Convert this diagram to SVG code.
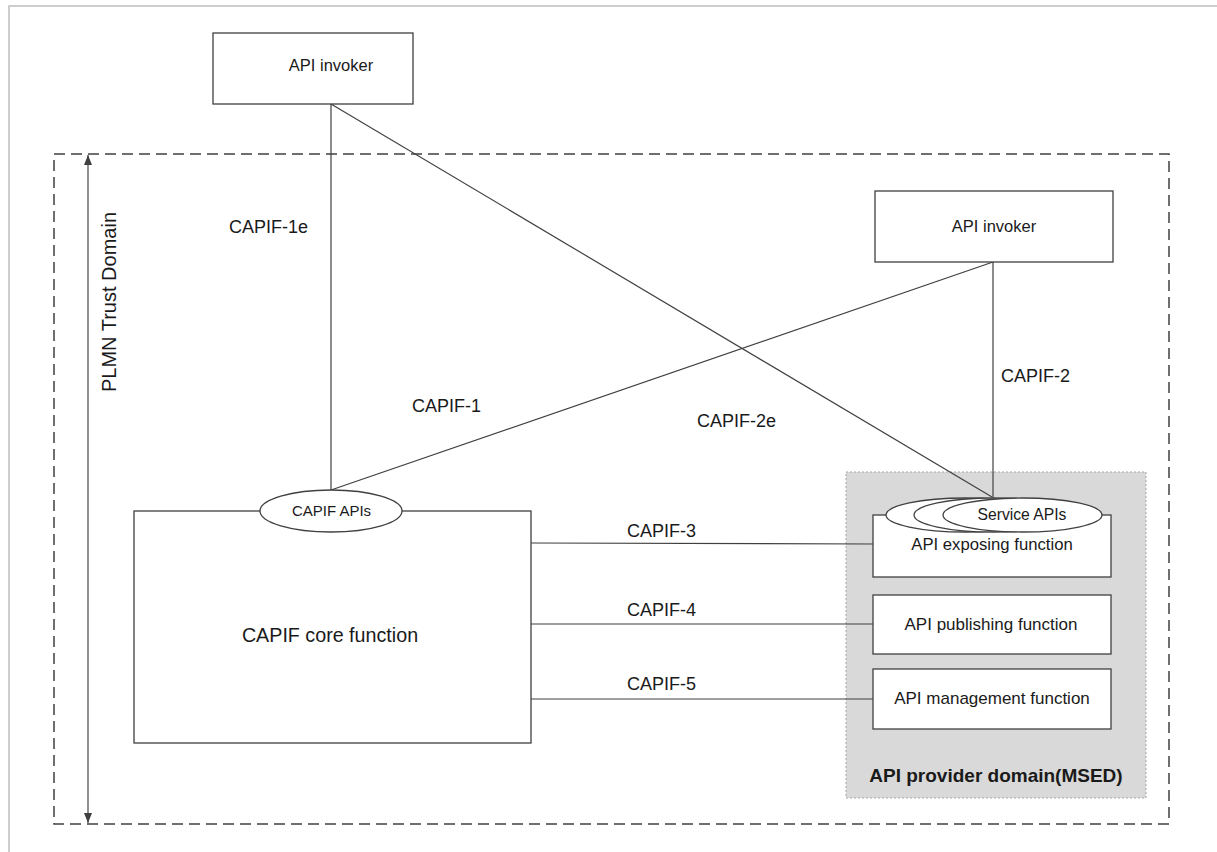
<svg xmlns="http://www.w3.org/2000/svg" width="1217" height="852" viewBox="0 0 1217 852">
<defs>
<style>
text{font-family:"Liberation Sans",Arial,sans-serif;fill:#1a1a1a}
.box{fill:#fff;stroke:#404040;stroke-width:1.3}
.ln{stroke:#404040;stroke-width:1.2;fill:none}
.lbl{font-size:18px}
.sm{font-size:16px;text-anchor:middle}
</style>
<marker id="ah" viewBox="0 0 10 10" refX="10" refY="5" markerWidth="10" markerHeight="10" markerUnits="userSpaceOnUse" orient="auto-start-reverse">
<path d="M0,1 L10,5 L0,9 Z" fill="#404040"/>
</marker>
</defs>
<rect width="1217" height="852" fill="#fff"/>
<path d="M9,852 V6 H1217" fill="none" stroke="#bfbfbf" stroke-width="1.5"/>
<g id="plmn-domain">
<rect x="54" y="154" width="1115" height="670" fill="none" stroke="#404040" stroke-width="1.5" stroke-dasharray="11,6"/>
<line x1="88" y1="155" x2="88" y2="823" stroke="#555" stroke-width="1.3" marker-start="url(#ah)" marker-end="url(#ah)"/>
<text x="116" y="302" font-size="20" text-anchor="middle" transform="rotate(-90 116 302)">PLMN Trust Domain</text>
</g>
<g id="provider-domain">
<rect x="846" y="472" width="300" height="326" fill="#d9d9d9" stroke="#a6a6a6" stroke-width="1" stroke-dasharray="2,2"/>
<text x="996" y="782" font-size="19" font-weight="bold" text-anchor="middle">API provider domain(MSED)</text>
</g>
<g id="connectors">
<line class="ln" x1="331" y1="104" x2="331" y2="490"/>
<line class="ln" x1="331" y1="104" x2="992" y2="497"/>
<line class="ln" x1="993" y1="262" x2="993" y2="498"/>
<line class="ln" x1="993" y1="262" x2="331" y2="490"/>
<line class="ln" x1="531" y1="543" x2="873" y2="544"/>
<line class="ln" x1="531" y1="624" x2="873" y2="624"/>
<line class="ln" x1="531" y1="699" x2="873" y2="699"/>
<text class="lbl" x="229" y="233">CAPIF-1e</text>
<text class="lbl" x="412" y="412">CAPIF-1</text>
<text class="lbl" x="697" y="427">CAPIF-2e</text>
<text class="lbl" x="1001" y="382">CAPIF-2</text>
<text class="lbl" x="627" y="537">CAPIF-3</text>
<text class="lbl" x="627" y="616">CAPIF-4</text>
<text class="lbl" x="627" y="690">CAPIF-5</text>
</g>
<g id="api-invoker-1">
<rect class="box" x="213" y="33" width="200" height="71"/>
<text class="sm" x="331" y="71" style="font-size:16.5px">API invoker</text>
</g>
<g id="api-invoker-2">
<rect class="box" x="875" y="191" width="238" height="71"/>
<text class="sm" x="994" y="232" style="font-size:16.5px">API invoker</text>
</g>
<g id="capif-core">
<rect class="box" x="134" y="511" width="397" height="232"/>
<text x="330" y="642" font-size="19.7" text-anchor="middle">CAPIF core function</text>
</g>
<g id="capif-apis">
<ellipse class="box" cx="331" cy="511" rx="71" ry="21"/>
<text x="331.5" y="516" font-size="15" text-anchor="middle">CAPIF APIs</text>
</g>
<g id="api-exposing">
<rect class="box" x="873" y="515" width="238" height="62"/>
<text class="sm" x="992" y="550" style="font-size:16.7px">API exposing function</text>
</g>
<g id="service-apis">
<ellipse class="box" cx="965.5" cy="515" rx="79.5" ry="17"/>
<ellipse class="box" cx="993.5" cy="515" rx="79.5" ry="17"/>
<ellipse class="box" cx="1022.5" cy="515" rx="79.5" ry="17"/>
<text class="sm" x="1022" y="520" style="font-size:15.7px">Service APIs</text>
</g>
<g id="api-publishing">
<rect class="box" x="873" y="595" width="238" height="59"/>
<text class="sm" x="991" y="630" style="font-size:17px">API publishing function</text>
</g>
<g id="api-management">
<rect class="box" x="873" y="669" width="238" height="60"/>
<text class="sm" x="992" y="704" style="font-size:17px">API management function</text>
</g>
</svg>
